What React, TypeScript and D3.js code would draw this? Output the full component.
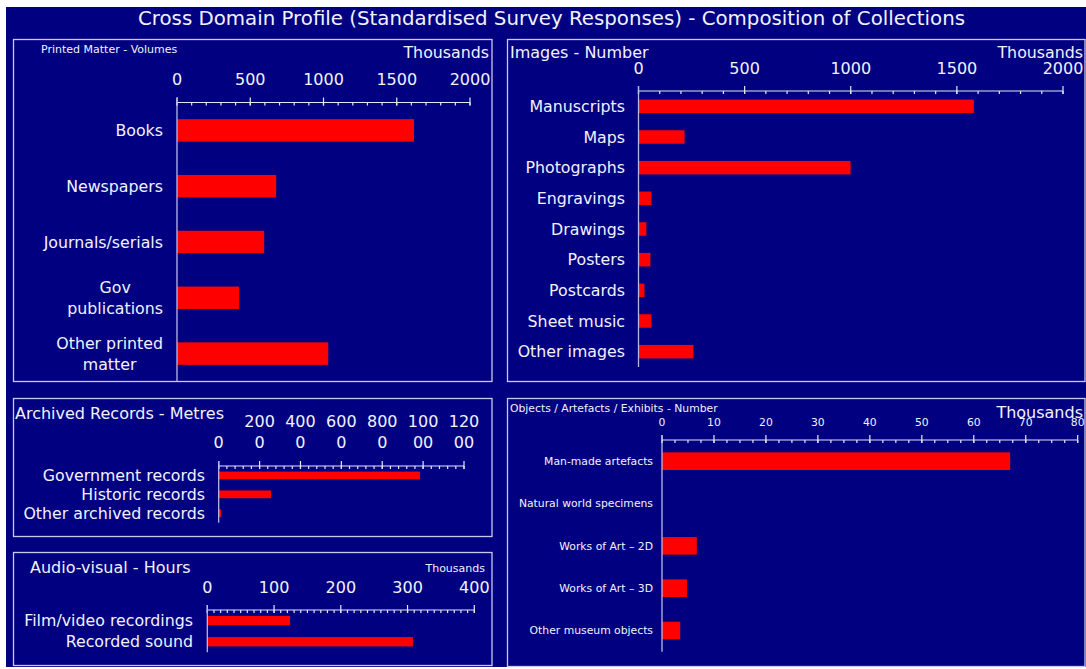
import React from "react";
import * as d3 from "d3";

// ---------- DATA ----------
const printedCategories = ["Books", "Newspapers", "Journals/serials", "Gov\npublications", "Other printed\nmatter"];
const printedValues = [1618, 677, 595, 425, 1032];
const printedTicks = [0, 500, 1000, 1500, 2000];

const imageCategories = ["Manuscripts", "Maps", "Photographs", "Engravings", "Drawings", "Posters", "Postcards", "Sheet music", "Other images"];
const imageValues = [1580, 217, 999, 61, 37, 56, 28, 61, 259];
const imageTicks = [0, 500, 1000, 1500, 2000];

const archiveCategories = ["Government records", "Historic records", "Other archived records"];
const archiveValues = [9850, 2560, 110];
const archiveTicks = [0, 2000, 4000, 6000, 8000, 10000, 12000];

const audioCategories = ["Film/video recordings", "Recorded sound"];
const audioValues = [124, 308];
const audioTicks = [0, 100, 200, 300, 400];

const objectCategories = ["Man-made artefacts", "Natural world specimens", "Works of Art \u2013 2D", "Works of Art \u2013 3D", "Other museum objects"];
const objectValues = [67, 0, 6.7, 4.8, 3.5];
const objectTicks = [0, 10, 20, 30, 40, 50, 60, 70, 80];

// ---------- STYLE ----------
const FONT = "'DejaVu Sans', Verdana, sans-serif";
const BG = "#000080";
const BAR = "#FF0000";
const TEXT = "#F2F2FF";
const BORDER = "#C8C8F0";
const AXIS = "#E6E6F6";
const VAXIS = "#B8B8E8";

let ctx: CanvasRenderingContext2D | null = null;
function measure(text: string, size: number) {
  if (!ctx) ctx = document.createElement("canvas").getContext("2d");
  if (!ctx) return text.length * size * 0.6;
  ctx.font = `${size}px 'DejaVu Sans'`;
  return ctx.measureText(text).width;
}

type PanelProps = {
  box: { x: number; y: number; w: number; h: number };
  title: string; titleX: number; titleY: number; titleSize: number;
  unitSize?: number; unitX?: number; unitY?: number;
  x0: number; x1: number; axisY: number; bottom: number;
  ticks: number[]; minorStep: number; tickY: number; tickSize: number;
  wrapTicks?: boolean;
  categories: string[]; values: number[];
  labelX: number; labelSize: number; pad: number;
};

function Panel(p: PanelProps) {
  const max = p.ticks[p.ticks.length - 1];
  const x = d3.scaleLinear().domain([0, max]).range([p.x0, p.x1]);
  const y = d3.scaleBand<string>().domain(p.categories).range([p.axisY, p.bottom])
    .paddingInner(p.pad).paddingOuter(p.pad / 2);
  const minors = d3.range(0, max + p.minorStep / 2, p.minorStep);
  const lh = 20.7 * p.labelSize / 16;
  const tlh = 20.7;
  return (
    <g>
      <rect x={p.box.x} y={p.box.y} width={p.box.w} height={p.box.h} fill="none" stroke={BORDER} strokeWidth={1.3} />
      <text x={p.titleX} y={p.titleY} fontSize={p.titleSize} fill={TEXT}>{p.title}</text>
      {p.unitSize ? (
        <text x={p.unitX} y={p.unitY} fontSize={p.unitSize} fill={TEXT} textAnchor="end">Thousands</text>
      ) : null}
      {/* tick labels */}
      {p.ticks.map((t) => {
        const s = String(t);
        const lines = p.wrapTicks && s.length > 3 ? [s.slice(0, 3), s.slice(3)] : [s];
        return lines.map((ln, i) => (
          <text key={`${t}-${i}`} x={x(t)} y={p.tickY - (lines.length - 1 - i) * tlh} fontSize={p.tickSize}
            fill={TEXT} textAnchor="middle">{ln}</text>
        ));
      })}
      {/* bars */}
      {p.categories.map((c, i) => (
        <rect key={c} x={x(0)} y={y(c)} width={Math.max(0, x(p.values[i]) - x(0))} height={y.bandwidth()} fill={BAR} />
      ))}
      {/* axis */}
      <line x1={p.x0} x2={p.x1} y1={p.axisY} y2={p.axisY} stroke={AXIS} strokeWidth={1.2} />
      {minors.map((m) => (
        <line key={`m${m}`} x1={x(m)} x2={x(m)} y1={p.axisY} y2={p.axisY + 3} stroke={AXIS} strokeWidth={1.2} />
      ))}
      {p.ticks.map((t) => (
        <line key={`M${t}`} x1={x(t)} x2={x(t)} y1={p.axisY - 5} y2={p.axisY + 3} stroke={AXIS} strokeWidth={1.2} />
      ))}
      <line x1={p.x0} x2={p.x0} y1={p.axisY - 5} y2={p.bottom} stroke={VAXIS} strokeWidth={1.3} />
      {/* category labels */}
      {p.categories.map((c) => {
        const lines = c.split("\n");
        const cy = (y(c) as number) + y.bandwidth() / 2;
        const maxW = Math.max(...lines.map((l) => measure(l, p.labelSize)));
        const multi = lines.length > 1;
        return lines.map((ln, i) => (
          <text key={`${c}-${i}`} x={multi ? p.labelX - maxW / 2 : p.labelX}
            y={cy + (i - (lines.length - 1) / 2) * lh + p.labelSize * 0.36}
            fontSize={p.labelSize} fill={TEXT} textAnchor={multi ? "middle" : "end"}>{ln}</text>
        ));
      })}
    </g>
  );
}

export default function App() {
  return (
    <svg width={1086} height={669} style={{ position: "absolute", left: 0, top: 0, fontFamily: FONT }}>
      <rect x={0} y={0} width={1086} height={669} fill="#FFFFFF" />
      <rect x={6} y={7} width={1080} height={660} fill={BG} />
      <text x={551.5} y={25} fontSize={19.8} fill={TEXT} textAnchor="middle">
        Cross Domain Profile (Standardised Survey Responses) - Composition of Collections
      </text>

      <Panel box={{ x: 13.5, y: 39.5, w: 478.5, h: 342 }}
        title="Printed Matter - Volumes" titleX={41} titleY={53} titleSize={11}
        unitSize={15.8} unitX={489} unitY={58}
        x0={177} x1={470} axisY={102.5} bottom={381.5}
        ticks={printedTicks} minorStep={100} tickY={85} tickSize={16}
        categories={printedCategories} values={printedValues}
        labelX={163} labelSize={15.8} pad={0.597} />

      <Panel box={{ x: 507.5, y: 39.5, w: 577.5, h: 342 }}
        title="Images - Number" titleX={510} titleY={58} titleSize={16}
        unitSize={15.8} unitX={1083} unitY={58}
        x0={638.5} x1={1063} axisY={91} bottom={367}
        ticks={imageTicks} minorStep={100} tickY={74} tickSize={16}
        categories={imageCategories} values={imageValues}
        labelX={625} labelSize={15.8} pad={0.56} />

      <Panel box={{ x: 13.5, y: 398.5, w: 478.5, h: 138 }}
        title="Archived Records - Metres" titleX={15} titleY={418.5} titleSize={16}
        x0={218.7} x1={464} axisY={466} bottom={522.7}
        ticks={archiveTicks} minorStep={400} tickY={447.5} tickSize={16} wrapTicks
        categories={archiveCategories} values={archiveValues}
        labelX={205} labelSize={15.8} pad={0.59} />

      <Panel box={{ x: 13.5, y: 552.5, w: 478.5, h: 113 }}
        title="Audio-visual - Hours" titleX={30} titleY={572.5} titleSize={16}
        unitSize={11} unitX={485} unitY={572}
        x0={207.3} x1={474.3} axisY={610} bottom={652.3}
        ticks={audioTicks} minorStep={10} tickY={592.5} tickSize={16}
        categories={audioCategories} values={audioValues}
        labelX={193} labelSize={15.8} pad={0.56} />

      <Panel box={{ x: 507.5, y: 398.5, w: 577.5, h: 268 }}
        title="Objects / Artefacts / Exhibits - Number" titleX={510} titleY={412.3} titleSize={10.8}
        unitSize={16} unitX={1083} unitY={418}
        x0={662} x1={1077.7} axisY={440} bottom={651.7}
        ticks={objectTicks} minorStep={2.5} tickY={426} tickSize={10.8}
        categories={objectCategories} values={objectValues}
        labelX={653} labelSize={10.8} pad={0.584} />
    </svg>
  );
}
